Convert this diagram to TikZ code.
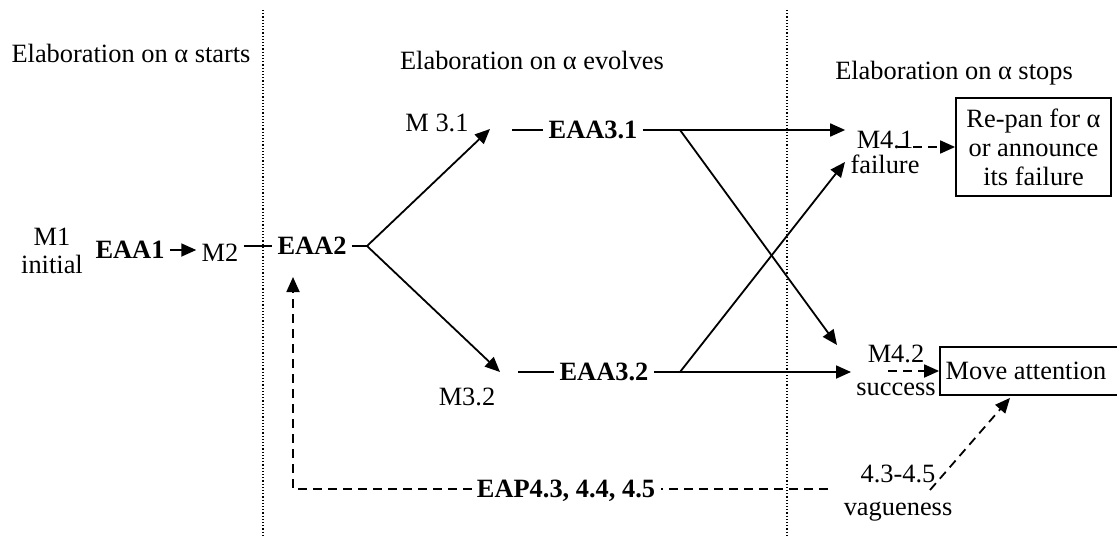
\documentclass[tikz,border=0pt]{standalone}
\usepackage{fontspec}
\setmainfont{Liberation Serif}
\usepackage{tikz}
\usetikzlibrary{arrows.meta, calc}

\begin{document}
\fontsize{13.2}{14}\selectfont
\begin{tikzpicture}[
    x=0.5pt, y=-0.5pt,
    every node/.style={inner sep=2.5pt},
    lbl/.style={text height=8pt, text depth=0pt},
    act/.style={lbl, font=\bfseries},
    stage/.style={align=center},
    box/.style={rectangle, draw, line width=0.9pt, align=center, inner sep=2pt},
    arrow/.style={-{Triangle[length=7.5pt, width=6.5pt]}, line width=0.9pt},
    link/.style={line width=0.9pt},
    dashlink/.style={line width=0.9pt, dash pattern=on 4.5pt off 3pt},
    dasharrow/.style={dashlink, -{Triangle[length=7.5pt, width=6.5pt]}},
    divider/.style={line width=0.6pt, densely dotted}
]
    \useasboundingbox (0,0) rectangle (1117,535);

    \node[anchor=base] (starts) at (131,62) {Elaboration on α starts};
    \node[anchor=base] (evolves) at (532,69) {Elaboration on α evolves};
    \node[anchor=base] (stops) at (954,80) {Elaboration on α stops};

    \node[stage] (m1) at (52,251) {M1\\initial};
    \node[act] (eaa1) at (130,250) {EAA1};
    \node[lbl] (m2) at (220,253) {M2};
    \node[act] (eaa2) at (312,246) {EAA2};
    \node[lbl] (m31) at (437,124) {M 3.1};
    \node[act] (eaa31) at (593,130) {EAA3.1};
    \node[lbl] (m32) at (467,397) {M3.2};
    \node[act] (eaa32) at (604,372) {EAA3.2};
    \node[stage, font=\fontsize{13.2}{12.5}\selectfont] (m41) at (885,152) {M4.1\\failure};
    \node[stage, font=\fontsize{13.2}{16.5}\selectfont] (m42) at (896,370) {M4.2\\success};
    \node[stage, font=\fontsize{13.2}{16.5}\selectfont] (vague) at (898,493) {4.3-4.5\\vagueness};
    \node[act] (eap) at (566,489) {EAP4.3, 4.4, 4.5};
    \node[box, minimum width=77.5pt, minimum height=49pt, font=\fontsize{13.2}{14.5}\selectfont] (repan) at (1033.5,147) {Re-pan for α\\or announce\\its failure};
    \node[box, minimum width=98pt, minimum height=24pt] (move) at (1038,371) {\hspace*{-12pt}Move attention};

    \coordinate (fork) at (367,246);
    \coordinate (t31) at (490,129);
    \coordinate (t32) at (500,372);
    \coordinate (s31) at (512,130);
    \coordinate (s32) at (518,372);
    \coordinate (b31) at (680,130);
    \coordinate (b32) at (680,372);
    \coordinate (to41) at (845,162);
    \coordinate (to42) at (837,345);
    \coordinate (vagueEnd) at (828,489);
    \coordinate (back) at (293,277);

    \draw[divider] (263,10) -- (263,535);
    \draw[divider] (787,10) -- (787,535);

    \draw[arrow] (eaa1.east) -- (eaa1.east -| m2.west);
    \draw[link] (eaa2.west -| m2.east) -- (eaa2.west);
    \draw[link] (eaa2.east) -- (fork);
    \draw[arrow] (fork) -- (t31);
    \draw[arrow] (fork) -- (t32);
    \draw[link] (s31) -- (eaa31.west);
    \draw[link] (s32) -- (eaa32.west);
    \draw[arrow] (eaa31.east) -- (eaa31.east -| m41.west);
    \draw[arrow] (eaa32.east) -- (eaa32.east -| m42.west);
    \draw[arrow] (b31) -- (to42);
    \draw[arrow] (b32) -- (to41);
    \draw[dasharrow] ($(m41.center)+(13,-5)$) -- (repan.west);
    \draw[dasharrow] ($(m42.center)+(-8,1)$) -- (move.west);
    \draw[dasharrow] ($(vague.center)+(32,-3)$) -- ($(move.south)+(-28,2)$);
    \draw[dashlink] (vagueEnd) -- (eap.east);
    \draw[dasharrow] (eap.west) -| (back);
\end{tikzpicture}
\end{document}
